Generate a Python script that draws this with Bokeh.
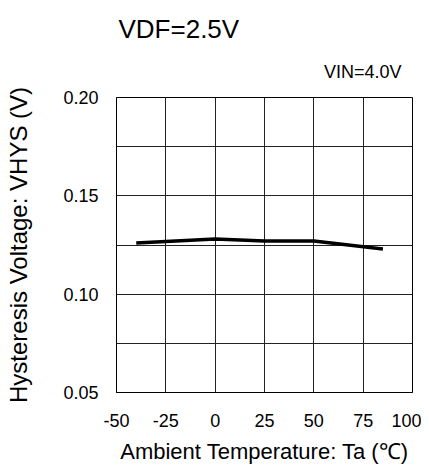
from bokeh.plotting import figure
from bokeh.models import FixedTicker, Title, Range1d, NumeralTickFormatter
from bokeh.embed import file_html
from bokeh.resources import INLINE

# data
temps = [-40, 0, 25, 50, 85]
vhys = [0.126, 0.128, 0.127, 0.127, 0.123]
x_ticks = [-50, -25, 0, 25, 50, 75, 100]
y_ticks = [0.05, 0.10, 0.15, 0.20]
y_grid = [0.05, 0.075, 0.10, 0.125, 0.15, 0.175, 0.20]
title_text = "VDF=2.5V"
cond_text = "VIN=4.0V"
x_label = "Ambient Temperature: Ta (\u2103)"
y_label = "Hysteresis Voltage: VHYS (V)"

FONT = "Liberation Sans"

p = figure(width=421, height=468, output_backend="svg", toolbar_location=None,
           x_range=Range1d(-50, 100), y_range=Range1d(0.05, 0.20),
           min_border_left=116, min_border_right=9, min_border_top=97, min_border_bottom=76)
p.title.visible = False
p.background_fill_color = "white"
p.border_fill_color = "white"
p.outline_line_color = "#000000"
p.outline_line_width = 1

for ax in (p.xaxis[0], p.yaxis[0]):
    ax.major_tick_out = 0
    ax.major_tick_in = 0
    ax.minor_tick_out = 0
    ax.minor_tick_in = 0
    ax.axis_line_color = "#000000"
    ax.major_label_text_font = FONT
    ax.major_label_text_font_size = "18px"
    ax.major_label_text_color = "#000000"
    ax.axis_label_text_font = FONT
    ax.axis_label_text_font_style = "normal"
    ax.axis_label_text_color = "#000000"

p.xaxis[0].ticker = FixedTicker(ticks=x_ticks)
p.xaxis[0].formatter = NumeralTickFormatter(format="0")
p.yaxis[0].ticker = FixedTicker(ticks=y_ticks)
p.yaxis[0].formatter = NumeralTickFormatter(format="0.00")
p.xaxis[0].major_label_standoff = 21
p.yaxis[0].major_label_standoff = 18
p.xaxis[0].axis_label = x_label
p.yaxis[0].axis_label = y_label
p.xaxis[0].axis_label_text_font_size = "22px"
p.yaxis[0].axis_label_text_font_size = "24px"
p.xaxis[0].axis_label_standoff = 9
p.yaxis[0].axis_label_standoff = 28

p.xgrid[0].ticker = FixedTicker(ticks=x_ticks)
p.ygrid[0].ticker = FixedTicker(ticks=y_grid)
for g in (p.xgrid[0], p.ygrid[0]):
    g.grid_line_color = "#222222"
    g.grid_line_width = 1
    g.grid_line_alpha = 1.0

p.line(temps, vhys, line_color="#000000", line_width=3.5)

p.add_layout(Title(text=cond_text, align="right", offset=11, standoff=32,
                   text_font=FONT, text_font_size="18px", text_font_style="normal",
                   text_color="#000000"), "above")
# spacer between the two header lines
p.add_layout(Title(text=" ", align="left", standoff=2,
                   text_font=FONT, text_font_size="1px", text_alpha=0.0), "above")
p.add_layout(Title(text=title_text, align="left", offset=2, standoff=0,
                   text_font=FONT, text_font_size="26px", text_font_style="normal",
                   text_color="#000000"), "above")

open("out.html", "w").write(file_html(p, INLINE))
